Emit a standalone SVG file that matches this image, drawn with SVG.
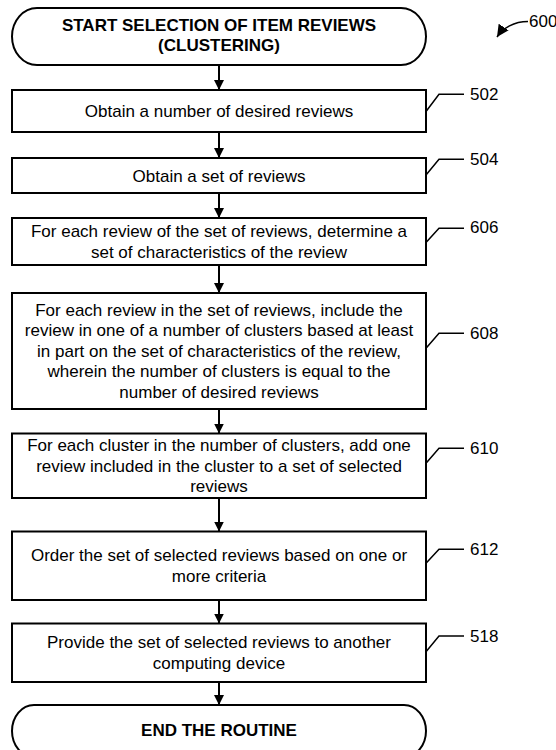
<svg xmlns="http://www.w3.org/2000/svg" width="556" height="750" viewBox="0 0 556 750">
<defs>
<marker id="ah" markerUnits="userSpaceOnUse" markerWidth="10" markerHeight="10" refX="10" refY="5" orient="auto">
<path d="M0,0 L10,5 L0,10 z" fill="#000"/>
</marker>
<marker id="ah2" markerUnits="userSpaceOnUse" markerWidth="14" markerHeight="12" refX="12" refY="6" orient="auto">
<path d="M0,0 L12,6 L0,12 z" fill="#000"/>
</marker>
<style>
.box{fill:#fff;stroke:#000;stroke-width:2}
.t{font-family:"Liberation Sans",Arial,sans-serif;font-size:17px;fill:#000;text-anchor:middle}
.b{font-weight:bold}
.lab{font-family:"Liberation Sans",Arial,sans-serif;font-size:17px;fill:#000}
.ld{fill:none;stroke:#000;stroke-width:1.5}
.c{fill:none;stroke:#000;stroke-width:2;marker-end:url(#ah)}
</style>
</defs>
<rect width="556" height="750" fill="#fff"/>
<g id="start">
<rect class="box" x="12" y="8" width="414" height="57" rx="25" ry="28.5"/>
<text class="t b" x="219" y="30.5">START SELECTION OF ITEM REVIEWS</text>
<text class="t b" x="219" y="51">(CLUSTERING)</text>
</g>
<g id="n502">
<rect class="box" x="12" y="90" width="414" height="42"/>
<text class="t" x="219" y="117">Obtain a number of desired reviews</text>
<path class="ld" d="M426,111.5 L439,94.3 L464,94.3"/>
<text class="lab" x="470" y="100">502</text>
</g>
<g id="n504">
<rect class="box" x="12" y="158" width="414" height="35"/>
<text class="t" x="219" y="181.5">Obtain a set of reviews</text>
<path class="ld" d="M426,175 L439,159.3 L464,159.3"/>
<text class="lab" x="470" y="165">504</text>
</g>
<g id="n606">
<rect class="box" x="12" y="218" width="414" height="47"/>
<text class="t" x="219" y="237">For each review of the set of reviews, determine a</text>
<text class="t" x="219" y="257.5">set of characteristics of the review</text>
<path class="ld" d="M426,242.5 L439,228.3 L464,228.3"/>
<text class="lab" x="470" y="233">606</text>
</g>
<g id="n608">
<rect class="box" x="12" y="293" width="414" height="116"/>
<text class="t" x="219" y="315.5">For each review in the set of reviews, include the</text>
<text class="t" x="219" y="336">review in one of a number of clusters based at least</text>
<text class="t" x="219" y="356.5">in part on the set of characteristics of the review,</text>
<text class="t" x="219" y="377">wherein the number of clusters is equal to the</text>
<text class="t" x="219" y="397.5">number of desired reviews</text>
<path class="ld" d="M426,348.3 L439,333.3 L464,333.3"/>
<text class="lab" x="470" y="339">608</text>
</g>
<g id="n610">
<rect class="box" x="12" y="433.5" width="414" height="64.5"/>
<text class="t" x="219" y="451">For each cluster in the number of clusters, add one</text>
<text class="t" x="219" y="471.5">review included in the cluster to a set of selected</text>
<text class="t" x="219" y="492">reviews</text>
<path class="ld" d="M426,463.3 L439,448.3 L464,448.3"/>
<text class="lab" x="470" y="454">610</text>
</g>
<g id="n612">
<rect class="box" x="12" y="531.5" width="414" height="68.5"/>
<text class="t" x="219" y="561">Order the set of selected reviews based on one or</text>
<text class="t" x="219" y="581.5">more criteria</text>
<path class="ld" d="M426,563.3 L439,549.3 L464,549.3"/>
<text class="lab" x="470" y="555">612</text>
</g>
<g id="n518">
<rect class="box" x="12" y="623.5" width="414" height="58.5"/>
<text class="t" x="219" y="648">Provide the set of selected reviews to another</text>
<text class="t" x="219" y="668.5">computing device</text>
<path class="ld" d="M426,651.7 L439,636 L464,636"/>
<text class="lab" x="470" y="642">518</text>
</g>
<g id="end">
<rect class="box" x="12" y="705" width="414" height="52" rx="22" ry="26"/>
<text class="t b" x="219" y="736">END THE ROUTINE</text>
</g>
<g id="ref600">
<path d="M528,21.5 C514,21.5 503,28 497,37" fill="none" stroke="#000" stroke-width="1.5" marker-end="url(#ah2)"/>
<text class="lab" x="529" y="27">600</text>
</g>
<g id="connectors">
<line class="c" x1="219" y1="65" x2="219" y2="90"/>
<line class="c" x1="219" y1="132" x2="219" y2="158"/>
<line class="c" x1="219" y1="193" x2="219" y2="218"/>
<line class="c" x1="219" y1="265" x2="219" y2="293"/>
<line class="c" x1="219" y1="409" x2="219" y2="433.5"/>
<line class="c" x1="219" y1="498" x2="219" y2="531.5"/>
<line class="c" x1="219" y1="600" x2="219" y2="623.5"/>
<line class="c" x1="219" y1="682" x2="219" y2="705"/>
</g>
</svg>
